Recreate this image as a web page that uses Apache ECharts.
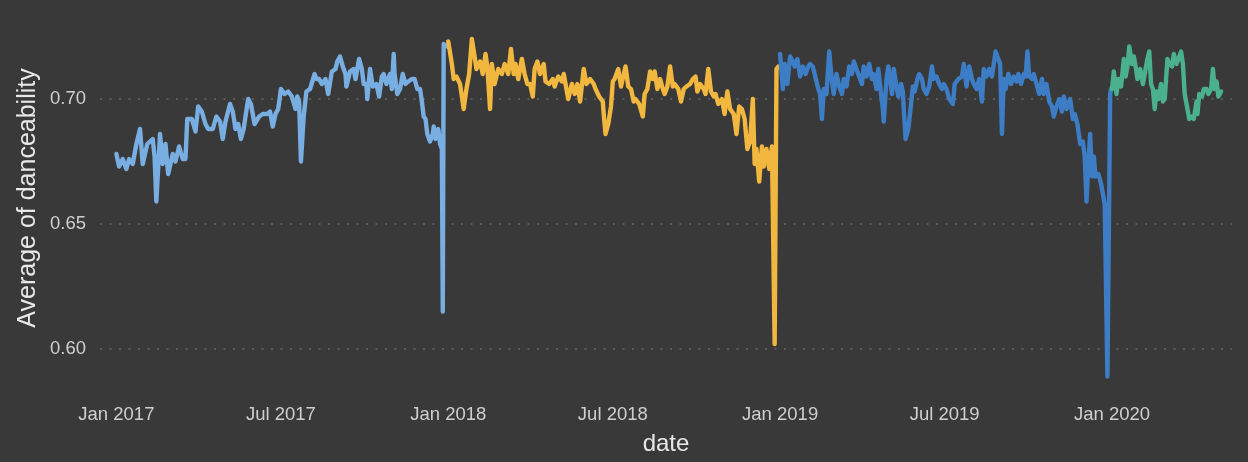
<!DOCTYPE html>
<html>
<head>
<meta charset="utf-8">
<script src="https://cdn.jsdelivr.net/npm/echarts@6/dist/echarts.min.js"></script>
<style>
  html, body { margin: 0; padding: 0; background: #393939; }
  #chart { width: 1248px; height: 462px; }
</style>
</head>
<body>
<div id="chart"></div>
<script>
// daily average danceability as [day of year, value]
var dance2017 = [
  [0,0.678],[3,0.673],[7,0.676],[11,0.672],[14,0.676],[18,0.674],[22,0.682],[26,0.688],[29,0.674],
  [34,0.682],[40,0.684],[42,0.677],[44,0.659],[48,0.686],[51,0.674],[54,0.682],[57,0.670],[62,0.678],
  [65,0.675],[69,0.681],[73,0.676],[76,0.676],[78,0.692],[83,0.692],[87,0.687],[90,0.697],[94,0.695],
  [98,0.690],[101,0.688],[106,0.688],[110,0.693],[114,0.691],[117,0.684],[120,0.691],[125,0.698],
  [128,0.695],[131,0.688],[134,0.690],[137,0.684],[140,0.688],[142,0.693],[145,0.700],[148,0.698],
  [152,0.690],[157,0.693],[161,0.694],[166,0.694],[169,0.695],[172,0.689],[175,0.694],[178,0.696],
  [181,0.704],[185,0.702],[189,0.703],[193,0.701],[197,0.696],[199,0.701],[201,0.699],[203,0.675],
  [206,0.693],[209,0.703],[213,0.704],[218,0.710],[220,0.708],[223,0.708],[226,0.706],[230,0.708],
  [233,0.702],[237,0.711],[241,0.712],[243,0.715],[246,0.717],[249,0.713],[252,0.710],[253,0.705],
  [257,0.711],[261,0.712],[263,0.708],[267,0.716],[270,0.712],[272,0.706],[275,0.706],[276,0.700],
  [279,0.712],[282,0.705],[286,0.706],[289,0.701],[292,0.709],[294,0.710],[297,0.706],[301,0.710],
  [303,0.704],[305,0.718],[306,0.710],[309,0.702],[312,0.704],[315,0.710],[318,0.706],[321,0.707],
  [325,0.708],[328,0.708],[331,0.704],[334,0.704],[336,0.699],[338,0.693],[340,0.692],[342,0.686],
  [345,0.683],[348,0.686],[349,0.689],[351,0.684],[354,0.688],[356,0.682],[358,0.680],[359,0.615],
  [360,0.722],[364,0.721]
];
var dance2018 = [
  [0,0.723],[4,0.714],[6,0.708],[9,0.709],[13,0.706],[17,0.696],[20,0.704],[23,0.710],[26,0.724],
  [29,0.717],[31,0.712],[35,0.715],[38,0.710],[41,0.718],[43,0.713],[46,0.696],[48,0.714],[51,0.706],
  [55,0.712],[59,0.710],[62,0.714],[66,0.710],[69,0.720],[72,0.710],[74,0.714],[77,0.708],[81,0.716],
  [84,0.710],[87,0.706],[90,0.706],[93,0.701],[95,0.712],[98,0.715],[101,0.710],[105,0.714],[107,0.707],
  [111,0.706],[115,0.708],[117,0.705],[121,0.709],[125,0.707],[127,0.710],[130,0.704],[132,0.700],
  [136,0.706],[139,0.702],[142,0.706],[145,0.699],[149,0.712],[152,0.706],[156,0.708],[160,0.706],
  [162,0.704],[166,0.701],[170,0.699],[171,0.694],[173,0.686],[176,0.690],[179,0.697],[181,0.707],
  [183,0.708],[187,0.712],[190,0.705],[193,0.710],[195,0.713],[198,0.705],[201,0.704],[204,0.699],
  [206,0.700],[210,0.698],[214,0.693],[216,0.702],[219,0.704],[222,0.711],[225,0.708],[227,0.711],
  [230,0.704],[233,0.708],[236,0.704],[238,0.702],[241,0.705],[244,0.713],[247,0.705],[249,0.706],
  [253,0.704],[256,0.699],[259,0.704],[262,0.705],[266,0.706],[269,0.708],[272,0.709],[274,0.703],
  [277,0.706],[281,0.704],[283,0.702],[286,0.712],[289,0.703],[292,0.701],[294,0.702],[297,0.698],
  [301,0.700],[304,0.694],[307,0.703],[310,0.696],[314,0.694],[317,0.686],[320,0.697],[323,0.696],
  [326,0.692],[329,0.680],[332,0.683],[335,0.700],[337,0.674],[339,0.680],[342,0.667],[345,0.681],
  [347,0.673],[350,0.680],[353,0.672],[356,0.681],[358,0.681],[359,0.602],[361,0.712],[363,0.713],
  [364,0.713]
];
var dance2019 = [
  [0,0.718],[3,0.704],[5,0.714],[8,0.706],[11,0.717],[14,0.715],[16,0.713],[19,0.716],[22,0.709],
  [25,0.713],[28,0.710],[31,0.713],[33,0.714],[36,0.713],[38,0.710],[42,0.704],[44,0.702],[46,0.692],
  [48,0.704],[51,0.702],[54,0.719],[57,0.707],[59,0.702],[62,0.710],[65,0.705],[68,0.702],[70,0.708],
  [73,0.705],[76,0.713],[79,0.710],[81,0.715],[84,0.712],[87,0.709],[90,0.706],[92,0.713],[95,0.709],
  [98,0.714],[101,0.708],[103,0.710],[106,0.704],[108,0.712],[111,0.702],[113,0.696],[114,0.691],
  [117,0.708],[119,0.713],[121,0.708],[123,0.702],[125,0.712],[128,0.705],[130,0.701],[133,0.706],
  [135,0.703],[136,0.696],[138,0.684],[141,0.688],[144,0.698],[146,0.705],[148,0.703],[151,0.708],
  [153,0.710],[156,0.708],[158,0.704],[161,0.702],[164,0.705],[167,0.713],[169,0.708],[172,0.709],
  [175,0.706],[178,0.704],[180,0.706],[183,0.704],[186,0.700],[190,0.698],[192,0.706],[196,0.708],
  [200,0.709],[202,0.714],[205,0.705],[208,0.713],[211,0.708],[213,0.706],[216,0.704],[219,0.708],
  [222,0.699],[224,0.712],[227,0.709],[230,0.712],[233,0.709],[235,0.714],[237,0.719],[240,0.716],
  [242,0.714],[244,0.686],[246,0.708],[248,0.704],[251,0.710],[254,0.706],[257,0.709],[260,0.707],
  [262,0.710],[265,0.706],[268,0.710],[270,0.709],[272,0.719],[274,0.709],[277,0.708],[279,0.710],
  [282,0.706],[285,0.702],[288,0.708],[290,0.702],[293,0.706],[296,0.699],[299,0.697],[301,0.693],
  [304,0.697],[307,0.700],[310,0.695],[312,0.701],[315,0.696],[319,0.700],[322,0.692],[324,0.694],
  [327,0.690],[330,0.682],[333,0.683],[335,0.677],[337,0.659],[339,0.674],[341,0.686],[343,0.669],
  [345,0.677],[347,0.669],[350,0.670],[353,0.666],[355,0.662],[357,0.658],[360,0.589],[363,0.702],
  [364,0.704]
];
var dance2020 = [
  [0,0.704],[2,0.711],[5,0.702],[7,0.708],[10,0.705],[13,0.716],[15,0.709],[17,0.713],[19,0.721],
  [22,0.714],[24,0.717],[26,0.713],[28,0.708],[31,0.712],[34,0.706],[36,0.710],[39,0.716],[41,0.719],
  [43,0.706],[45,0.704],[47,0.696],[49,0.703],[51,0.700],[54,0.706],[56,0.699],[58,0.700],[61,0.716],
  [63,0.714],[66,0.713],[68,0.718],[71,0.714],[73,0.716],[76,0.719],[78,0.714],[80,0.702],[83,0.696],
  [85,0.692],[88,0.693],[90,0.692],[93,0.699],[94,0.694],[96,0.702],[99,0.701],[101,0.704],[104,0.704],
  [106,0.702],[109,0.704],[111,0.712],[113,0.704],[115,0.707],[117,0.701],[120,0.703]
];

var years = [2017, 2018, 2019, 2020];
var yearData = [dance2017, dance2018, dance2019, dance2020];
var yearColors = ['#78AEE2', '#F2B73F', '#3C7DC6', '#4BB08E'];

var xTickDates = ['2017-01-01', '2017-07-01', '2018-01-01', '2018-07-01', '2019-01-01', '2019-07-01', '2020-01-01'];
var yTicks = [0.60, 0.65, 0.70];
var monthNames = ['Jan','Feb','Mar','Apr','May','Jun','Jul','Aug','Sep','Oct','Nov','Dec'];

var DAY = 86400000;
function toSeries(year, rows) {
  var start = Date.UTC(year, 0, 1);
  return rows.map(function (r) { return [start + r[0] * DAY, r[1]]; });
}
var xTickValues = xTickDates.map(function (d) { return Date.parse(d + 'T00:00:00Z'); });

var FONT = '"Liberation Sans", Arial, sans-serif';

var chart = echarts.init(document.getElementById('chart'), null, { renderer: 'canvas' });
chart.setOption({
  animation: false,
  backgroundColor: '#393939',
  grid: { left: 100, right: 16, top: 30, bottom: 76 },
  graphic: [{
    type: 'text',
    x: 28,
    y: 198,
    rotation: Math.PI / 2,
    style: {
      text: 'Average of danceability',
      fill: '#e8e8e8',
      font: '25px ' + FONT,
      textAlign: 'center',
      textVerticalAlign: 'middle'
    }
  }],
  xAxis: {
    type: 'value',
    min: Date.UTC(2016, 11, 14),
    max: Date.UTC(2020, 4, 12),
    name: 'date',
    nameLocation: 'middle',
    nameGap: 46,
    nameTextStyle: { color: '#e8e8e8', fontSize: 24, fontFamily: FONT },
    axisLine: { show: false },
    axisTick: { show: false, customValues: xTickValues },
    splitLine: { show: false },
    axisLabel: {
      customValues: xTickValues,
      color: '#cfcfcf',
      fontSize: 18.5,
      fontFamily: FONT,
      margin: 19,
      formatter: function (v) {
        var d = new Date(v);
        return monthNames[d.getUTCMonth()] + ' ' + d.getUTCFullYear();
      }
    }
  },
  yAxis: {
    type: 'value',
    min: 0.5852,
    max: 0.7276,
    axisLine: { show: false },
    axisTick: { show: false, customValues: yTicks },
    axisLabel: {
      customValues: yTicks,
      color: '#cfcfcf',
      fontSize: 18.5,
      fontFamily: FONT,
      margin: 14,
      formatter: function (v) { return v.toFixed(2); }
    },
    splitLine: {
      show: true,
      lineStyle: { color: '#5a5a5a', width: 2, type: [2, 7.5] }
    }
  },
  series: years.map(function (y, i) {
    return {
      type: 'line',
      name: String(y),
      data: toSeries(y, yearData[i]),
      showSymbol: false,
      symbol: 'none',
      lineStyle: { color: yearColors[i], width: 4.4, join: 'round', cap: 'round' },
      itemStyle: { color: yearColors[i] }
    };
  })
});
</script>
</body>
</html>
